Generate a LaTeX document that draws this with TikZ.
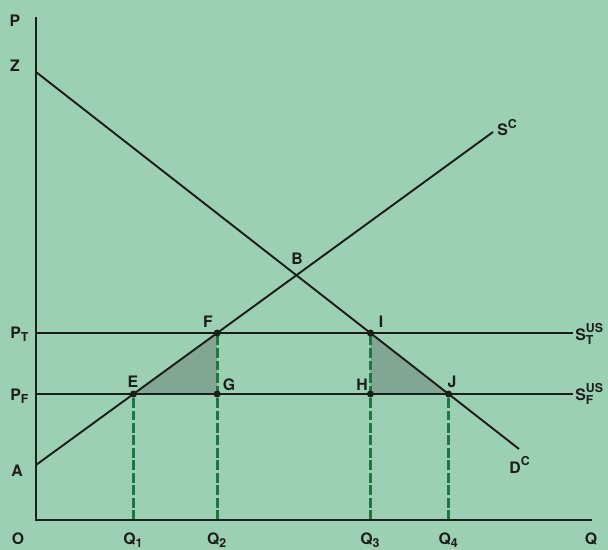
\documentclass[tikz,border=0pt]{standalone}
\usepackage{amsmath}
\usepackage{fontspec}
\setmainfont{TeX Gyre Heros}
\usetikzlibrary{calc}
\DeclareMathSizes{9}{9}{7}{6}

\definecolor{bgmint}{RGB}{156,208,181}
\definecolor{shadegrey}{RGB}{130,166,148}
\definecolor{dashgreen}{RGB}{30,118,66}
\definecolor{inkline}{RGB}{28,30,28}

\begin{document}
\begin{tikzpicture}[
    x=0.02cm, y=-0.02cm,
    curve/.style={draw=inkline, line width=1.1pt},
    axis/.style={draw=inkline, line width=1.3pt},
    guide/.style={draw=dashgreen, line width=1.6pt, dash pattern=on 5.5pt off 1.6pt},
    lbl/.style={font=\fontsize{9}{11}\selectfont\bfseries, text=inkline, inner sep=0pt, anchor=base},
    dot/.style={circle, fill=inkline, inner sep=0pt, minimum size=4pt},
    gap/.style={fill=shadegrey}
]

% ===== BACKGROUND =====
\fill[bgmint] (0,0) rectangle (608,550);

% ===== KEY POINTS =====
\coordinate (Ptop) at (36,17);
\coordinate (O) at (36,520);
\coordinate (Qend) at (592,520);
\coordinate (Z) at (36,72);
\coordinate (Dend) at (519,449);
\coordinate (A) at (36,465);
\coordinate (Send) at (493,132);
\coordinate (PTl) at (36,333);
\coordinate (PTr) at (573,333);
\coordinate (PFl) at (36,394);
\coordinate (PFr) at (573,394);

\coordinate (E) at (intersection of A--Send and PFl--PFr);
\coordinate (F) at (intersection of A--Send and PTl--PTr);
\coordinate (I) at (intersection of Z--Dend and PTl--PTr);
\coordinate (J) at (intersection of Z--Dend and PFl--PFr);
\coordinate (G) at (F |- PFl);
\coordinate (H) at (I |- PFl);
\coordinate (Q1) at (E |- O);
\coordinate (Q2) at (F |- O);
\coordinate (Q3) at (I |- O);
\coordinate (Q4) at (J |- O);

% ===== SHADED TRIANGLES =====
\fill[gap] (E) -- (F) -- (G) -- cycle;
\fill[gap] (I) -- (H) -- (J) -- cycle;

% ===== DASHED GUIDES =====
\draw[guide] (Q1) -- (E);
\draw[guide] (Q2) -- (F);
\draw[guide] (Q3) -- (I);
\draw[guide] (Q4) -- (J);

% ===== CURVES AND AXES =====
\draw[curve] (Z) -- (Dend);
\draw[curve] (A) -- (Send);
\draw[curve] (PTl) -- (PTr);
\draw[curve] (PFl) -- (PFr);
\draw[axis] (Ptop) -- (O) -- (Qend);

\foreach \p in {E,F,G,H,I,J}
    \node[dot] (d\p) at (\p) {};

% ===== LABELS =====
\node[lbl] (lP) at (15,27) {P};
\node[lbl] (lZ) at (15,72) {Z};
\node[lbl, anchor=base west] (lPT) at (10,338) {$\text{P}_{\text{T}}$};
\node[lbl, anchor=base west] (lPF) at (10,400) {$\text{P}_{\text{F}}$};
\node[lbl] (lA) at (17,476) {A};
\node[lbl] (lO) at (18,544) {O};
\node[lbl] (lQ1) at (Q1 |- 0,544) {$\text{Q}_{\text{1}}$};
\node[lbl] (lQ2) at (Q2 |- 0,544) {$\text{Q}_{\text{2}}$};
\node[lbl] (lQ3) at (Q3 |- 0,544) {$\text{Q}_{\text{3}}$};
\node[lbl] (lQ4) at (Q4 |- 0,544) {$\text{Q}_{\text{4}}$};
\node[lbl] (lQ) at (591,544) {Q};
\node[lbl, anchor=base west] (lSC) at (497,136) {$\text{S}^{\text{C}}$};
\node[lbl, anchor=base west] (lDC) at (509,473) {$\text{D}^{\text{C}}$};
\node[lbl, anchor=base west] (lST) at (575,340) {$\text{S}^{\text{US}}_{\text{T}}$};
\node[lbl, anchor=base west] (lSF) at (575,400) {$\text{S}^{\text{US}}_{\text{F}}$};
\node[lbl] (lB) at (297,265) {B};
\node[lbl] (lF) at (208,327) {F};
\node[lbl] (lE) at (133,387) {E};
\node[lbl] (lG) at (229,390) {G};
\node[lbl] (lI) at (381,327) {I};
\node[lbl] (lH) at (362,390) {H};
\node[lbl] (lJ) at (452,387) {J};

\end{tikzpicture}
\end{document}
